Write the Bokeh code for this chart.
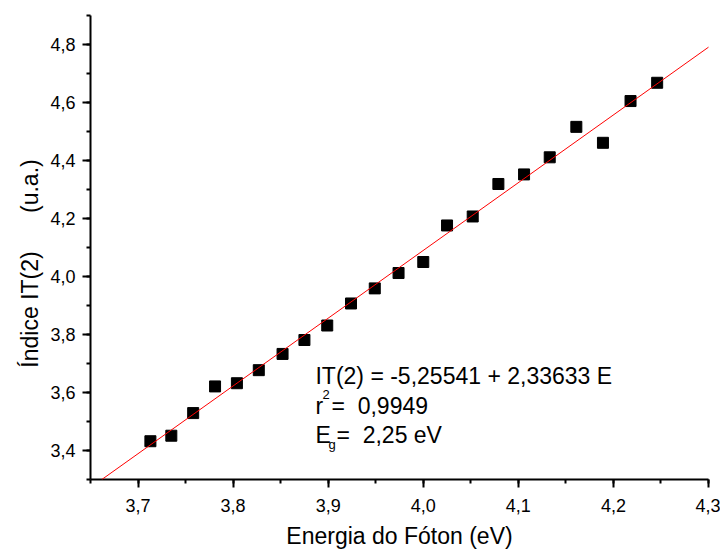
from bokeh.plotting import figure
from bokeh.models import Range1d, Slope, Label, CustomJSTickFormatter, SingleIntervalTicker
from bokeh.embed import file_html
from bokeh.resources import INLINE

# Data
energy = [3.713, 3.735, 3.758, 3.781, 3.804, 3.827, 3.852, 3.875, 3.899, 3.924, 3.949,
          3.974, 4.000, 4.025, 4.052, 4.079, 4.106, 4.133, 4.161, 4.189, 4.218, 4.246]
indice = [3.432, 3.451, 3.529, 3.621, 3.632, 3.677, 3.733, 3.781, 3.831, 3.907, 3.959,
          4.012, 4.050, 4.176, 4.207, 4.319, 4.352, 4.411, 4.516, 4.461, 4.605, 4.668]
fit_intercept = -5.25541
fit_slope = 2.33633

NB = "\u00a0"
line1 = "IT(2) = -5,25541 + 2,33633 E"
line2_a, line2_sup, line2_b = "r", "2", "=" + NB * 2 + "0,9949"
line3_a, line3_sub, line3_b = "E", "g", "=" + NB * 2 + "2,25 eV"

FONT = "Liberation Sans"

p = figure(width=720, height=551, output_backend="svg", toolbar_location=None,
           x_range=Range1d(3.65, 4.3), y_range=Range1d(3.3, 4.9),
           min_border_left=90, min_border_right=12, min_border_top=15, min_border_bottom=69)
p.outline_line_color = None
p.xgrid.visible = False
p.ygrid.visible = False
p.background_fill_color = "white"
p.border_fill_color = "white"

p.xaxis.ticker = SingleIntervalTicker(interval=0.1, num_minor_ticks=2)
p.yaxis.ticker = SingleIntervalTicker(interval=0.2, num_minor_ticks=2)
fmt = "return tick.toFixed(1).replace('.', ',');"
p.xaxis.formatter = CustomJSTickFormatter(code=fmt)
p.yaxis.formatter = CustomJSTickFormatter(code=fmt)

for ax in (p.xaxis, p.yaxis):
    ax.axis_line_width = 2
    ax.axis_line_color = "black"
    ax.major_tick_line_width = 2
    ax.minor_tick_line_width = 2
    ax.major_tick_line_color = "black"
    ax.minor_tick_line_color = "black"
    ax.major_tick_out = 8
    ax.major_tick_in = 0
    ax.minor_tick_out = 4
    ax.minor_tick_in = 0
    ax.major_label_text_font = FONT
    ax.major_label_text_font_size = "18px"
    ax.major_label_text_color = "black"
    ax.axis_label_text_font = FONT
    ax.axis_label_text_font_size = "23px"
    ax.axis_label_text_font_style = "normal"
    ax.axis_label_text_color = "black"

p.xaxis.axis_label = "Energia do Fóton (eV)"
p.xaxis.major_label_standoff = 11
p.xaxis.axis_label_standoff = 8
p.yaxis.axis_label = "Índice IT(2)" + NB * 6 + "(u.a.)" + NB * 5
p.yaxis.major_label_standoff = 7
p.yaxis.axis_label_standoff = 4

p.add_layout(Slope(gradient=fit_slope, y_intercept=fit_intercept,
                   line_color="#ff0000", line_width=1))
p.scatter(energy, indice, marker="square", size=11, fill_color="black",
          line_color="black", line_width=1)

tx, ty = 3.8866, 3.656
common = dict(text_font=FONT, text_color="black", text_baseline="alphabetic")
p.add_layout(Label(x=tx, y=ty, text=line1, text_font_size="23px", **common))
p.add_layout(Label(x=tx, y=ty, y_offset=-30, text=line2_a, text_font_size="23px", **common))
p.add_layout(Label(x=tx, y=ty, x_offset=7, y_offset=-18, text=line2_sup, text_font_size="13px", **common))
p.add_layout(Label(x=tx, y=ty, x_offset=16, y_offset=-30, text=line2_b, text_font_size="23px", **common))
p.add_layout(Label(x=tx, y=ty, y_offset=-59, text=line3_a, text_font_size="23px", **common))
p.add_layout(Label(x=tx, y=ty, x_offset=13, y_offset=-68, text=line3_sub, text_font_size="13px", **common))
p.add_layout(Label(x=tx, y=ty, x_offset=21, y_offset=-59, text=line3_b, text_font_size="23px", **common))

open("out.html", "w").write(file_html(p, INLINE))
